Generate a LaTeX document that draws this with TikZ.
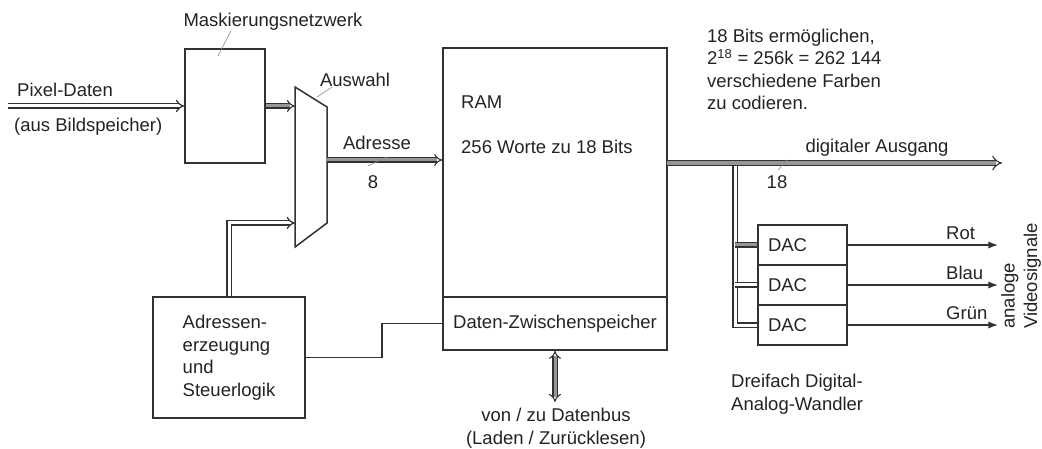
\documentclass[tikz,border=0pt]{standalone}
\usepackage{fontspec}
\setmainfont{Liberation Sans}
\usetikzlibrary{arrows.meta,calc,positioning}
\definecolor{wireink}{RGB}{50,50,50}
\definecolor{busgrey}{RGB}{150,150,150}
\definecolor{textink}{RGB}{35,35,35}

\begin{document}
\begin{tikzpicture}[x=1pt,y=-1pt,>=Latex,line join=miter,
  every node/.style={font=\fontsize{18.5}{22.5}\selectfont,text=textink,inner sep=0pt},
  box/.style={draw=wireink,line width=1.5pt},
  wbus/.style={draw=wireink,line width=1.2pt,double=white,double distance=3pt},
  gbus/.style={draw=wireink,line width=1.1pt,double=busgrey,double distance=3pt},
  wire/.style={draw=wireink,line width=1.5pt},
  tick/.style={draw=black!45,line width=0.6pt}]
 \useasboundingbox (0,0) rectangle (1042,449);
 % blocks
 \node[box,minimum width=80pt,minimum height=114pt] (mask) at (225,106) {};
 \node[box,minimum width=224pt,minimum height=302pt] (ram) at (555,199) {};
 \node[box,minimum width=224pt,minimum height=53pt] (buf) at (555,323.5)
  {Daten-Zwischenspeicher};
 \node[box,minimum width=152pt,minimum height=121pt,align=left] (addr)
  at (229,357.5) {Adressen-\\erzeugung\\und\\Steuerlogik};
 \coordinate (muxTL) at (295,87);
 \coordinate (muxTR) at (327,107);
 \coordinate (muxBR) at (327,223);
 \coordinate (muxBL) at (295,247);
 \draw[box] (muxTL)--(muxTR)--(muxBR)--(muxBL)--cycle;
 \coordinate (vsig) at (998,0);
 \foreach \i/\yy/\col in {1/245/Rot,2/285/Blau,3/325/Grün}{
  \node[box,minimum width=89pt,minimum height=40pt,text width=69pt,
   inner xsep=10pt,align=left] (dac\i) at (802.5,\yy) {DAC};
  \draw[wire,->] (dac\i.east) -- (dac\i.east -| vsig);
  \node[anchor=west] (col\i) at (946,\yy-12) {\col};
 }
 % busses
 \coordinate (pxin) at (8,106);
 \draw[wbus,-Implies] (pxin) -- (pxin -| mask.west);
 \draw[gbus,-Implies] (mask.east) -- (mask.east -| muxTL);
 \coordinate (muxin) at (295,223);
 \draw[wbus,-Implies] (addr.north) |- (muxin);
 \coordinate (muxout) at (327,160);
 \draw[gbus,-Implies] (muxout) -- (muxout -| ram.west);
 \draw[wire] (addr.east) -- ++(76,0) |- (buf.west);
 \coordinate (dbus) at (555,402);
 \draw[gbus,Implies-Implies] (buf.south) -- (dbus);
 \coordinate (ramout) at (667,163);
 \coordinate (outtip) at (1002,163);
 \coordinate (brk) at (735,166.5);
 \draw[gbus,-Implies,double distance=4pt] (ramout) -- (outtip);
 \draw[wbus] (brk) |- (dac3.west);
 \draw[gbus] (brk |- dac1.west) -- (dac1.west);
 \draw[wbus] (brk |- dac2.west) -- (dac2.west);
 % labels
 \node (masklbl) at (273,22) {Maskierungsnetzwerk};
 \draw[tick] ([xshift=-42pt]masklbl.south) -- ++(-13,25);
 \node (sellbl) at (355,80) {Auswahl};
 \draw[tick] ([xshift=-23pt]sellbl.south) -- ++(-15,10);
 \node[anchor=west] (pxlbl) at (17,90) {Pixel-Daten};
 \node[anchor=west] (pxsrc) at (14,127) {(aus Bildspeicher)};
 \node (addrlbl) at (377,143) {Adresse};
 \node (addrw) at (373,182) {8};
 \draw[tick] (368,166) -- (387,157);
 \node[anchor=west] (ramlbl) at (461,102) {RAM};
 \node[anchor=west] (ramsize) at (461,147) {256 Worte zu 18 Bits};
 \node[align=center] (dbuslbl) at (556,428)
  {von / zu Datenbus\\(Laden / Zurücklesen)};
 \node[align=left,anchor=west] (note) at (707,69.5)
  {18 Bits ermöglichen,\\2\textsuperscript{18} = 256k = 262 144\\verschiedene Farben\\zu codieren.};
 \node (outlbl) at (877,148) {digitaler Ausgang};
 \node (outw) at (777,182) {18};
 \draw[tick] (778,170) -- (787,160);
 \node[align=left,anchor=west] (daclbl) at (731,394)
  {Dreifach Digital-\\Analog-Wandler};
 \node[rotate=90,align=left,anchor=west] (vidlbl) at (1021,329)
  {analoge\\Videosignale};
\end{tikzpicture}
\end{document}
